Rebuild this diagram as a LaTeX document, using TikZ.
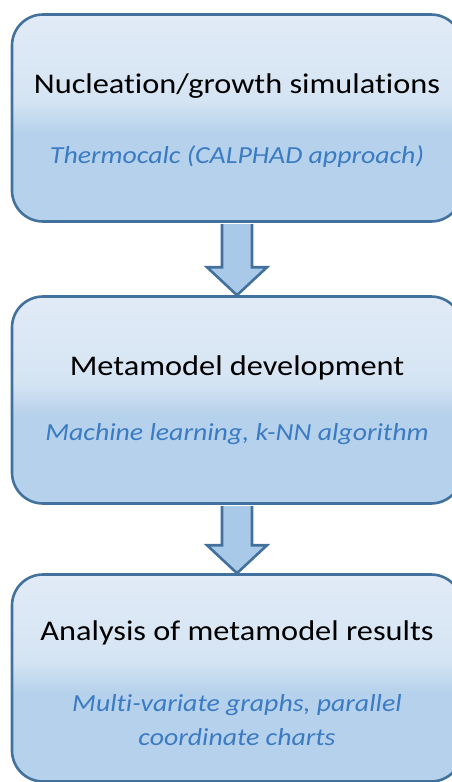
\documentclass[tikz,border=0pt]{standalone}
\usepackage{fontspec}
\setmainfont{Carlito}[FakeStretch=1.135, Ligatures=NoCommon]
\usetikzlibrary{calc}

\definecolor{edge}{HTML}{41719C}
\definecolor{filltop}{HTML}{E1EBF7}
\definecolor{fillmid}{HTML}{D5E4F3}
\definecolor{fillbot}{HTML}{B5D1EB}
\definecolor{subtext}{HTML}{3B7BC3}
\definecolor{arrowfill}{HTML}{A9C9E8}

\tikzset{
  stage/.style={
    draw=edge, line width=2.6pt, rounded corners=31pt,
    minimum width=450pt, minimum height=207pt, inner sep=0pt,
    fill=fillbot,
    path picture={
      \path (path picture bounding box.north west) coordinate (pnw)
            (path picture bounding box.south east) coordinate (pse);
      \shade[sharp corners, top color=filltop, bottom color=fillmid]
        (pnw) rectangle ($(pse|-pnw)!0.42!(pse)$);
      \shade[sharp corners, top color=fillmid, bottom color=fillbot]
        ($(pnw)!0.42!(pnw|-pse)$) rectangle ($(pse|-pnw)!0.57!(pse)$);
    }},
  title/.style={font=\fontsize{28.5}{34}\selectfont, text=black, anchor=base, inner sep=0pt},
  subtitle/.style={font=\fontsize{24.5}{34}\selectfont\itshape, text=subtext, anchor=base,
    align=center, inner sep=0pt},
  flow/.style={draw=edge, fill=arrowfill, line width=2.6pt, line join=miter},
}

\begin{document}
\begin{tikzpicture}[x=1pt, y=1pt]
  \useasboundingbox (0,0) rectangle (452,-782);

  % the three stages
  \node[stage] (b1) at (237,-118) {};
  \node[stage] (b2) at (237,-400) {};
  \node[stage] (b3) at (237,-678) {};

  % texts of each stage
  \node[title]    (t1) at (237,-93)  {Nucleation/growth simulations};
  \node[subtitle] (s1) at (237,-163) {Thermocalc (CALPHAD approach)};
  \node[title]    (t2) at (237,-375) {Metamodel development};
  \node[subtitle] (s2) at (237,-440) {Machine learning, k-NN algorithm};
  \node[title]    (t3) at (237,-640) {Analysis of metamodel results};
  \node[subtitle] (s3) at (237,-745) {Multi-variate graphs, parallel\\coordinate charts};

  % block arrows between stages
  \foreach \a/\b in {b1/b2, b2/b3}{
    \filldraw[flow]
      ($(\a.south)+(-15,-1.3)$) -- ($(\b.north)+(-15,28)$) -- ($(\b.north)+(-30,28)$)
      -- (\b.north) -- ($(\b.north)+(30,28)$) -- ($(\b.north)+(15,28)$)
      -- ($(\a.south)+(15,-1.3)$);
  }
\end{tikzpicture}
\end{document}
